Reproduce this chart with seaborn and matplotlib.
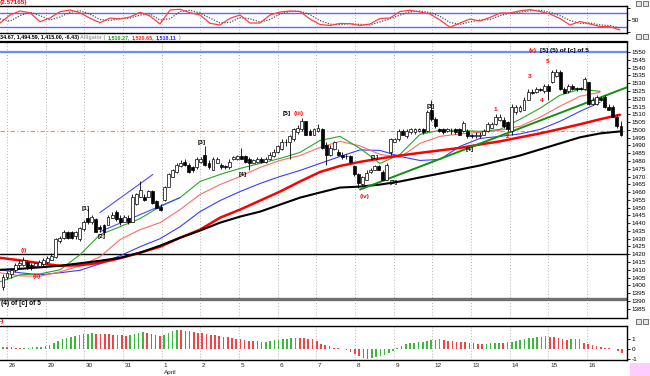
import numpy as np
import matplotlib
matplotlib.use("Agg")
import matplotlib.pyplot as plt
import matplotlib.transforms as mtransforms
from matplotlib.patches import Rectangle
import seaborn as sns

# ---- hourly candles (price) ----
open_px = [1399, 1405.5, 1407, 1410, 1413, 1413, 1415, 1413, 1412.5, 1412.5, 1414, 1415, 1416.5, 1418.5,
           1428.5, 1430.5, 1434.5, 1434, 1431.5, 1429.5, 1436, 1443.5, 1441, 1442.5, 1437.5, 1438.5, 1439,
           1443.5, 1447, 1443.5, 1441, 1443.5, 1441, 1452, 1457, 1457, 1457, 1460.5, 1454, 1450.5, 1455,
           1463.5, 1470, 1473, 1476.5, 1479.5, 1477.5, 1476, 1476, 1479.5, 1484, 1479, 1474.5, 1479, 1477.5,
           1477, 1476, 1481, 1481, 1483, 1483, 1481, 1479, 1479.5, 1481, 1479.5, 1481, 1483, 1485.5, 1487.5,
           1492.5, 1492, 1494, 1498.5, 1500.5, 1505.5, 1499, 1497, 1499, 1500.5, 1490.5, 1484, 1487.5, 1486,
           1484, 1483.5, 1483, 1476.5, 1471.5, 1465, 1468, 1473, 1474.5, 1476.5, 1473, 1468, 1485.5, 1492.5,
           1494, 1499, 1496, 1498.5, 1498.5, 1499, 1500.5, 1499, 1513, 1507, 1500.5, 1500.5, 1499, 1499.5,
           1500.5, 1500.5, 1499, 1499, 1496.5, 1496, 1496, 1497, 1499, 1501.5, 1503.5, 1506.5, 1506.5, 1505,
           1499, 1511.5, 1512, 1513, 1519.5, 1524.5, 1524.5, 1526, 1525, 1528, 1530.5, 1534.5, 1537.5, 1526,
           1525, 1528, 1527, 1527, 1526, 1530.5, 1516.5, 1516.5, 1520.5, 1521, 1515, 1514.5, 1508.5, 1502.5]
high_px = [1407, 1409.5, 1411, 1414.5, 1416, 1418.5, 1416.5, 1414.5, 1415, 1416.5, 1417.5, 1419, 1420.5, 1430.5,
           1432, 1435.5, 1435, 1435, 1435, 1437.5, 1442, 1450, 1445.5, 1443, 1439, 1439.5, 1445.5, 1447,
           1448.5, 1445, 1445.5, 1445, 1458.5, 1459.5, 1467, 1458.5, 1461.5, 1461.5, 1455, 1452, 1464,
           1472.5, 1475, 1479, 1480.5, 1481, 1479, 1477, 1482.5, 1482.5, 1489.5, 1480.5, 1482.5, 1482.5, 1479,
           1477.5, 1481, 1483.5, 1484, 1488.5, 1484, 1482.5, 1481.5, 1482.5, 1482.5, 1482.5, 1485.5, 1487.5,
           1490.5, 1494, 1494, 1497, 1501.5, 1503, 1507.5, 1506, 1500.5, 1501.5, 1503.5, 1501.5, 1492, 1490,
           1493, 1487.5, 1485.5, 1484.5, 1484, 1477.5, 1472, 1470.5, 1474, 1475.5, 1477.5, 1477.5, 1474.5,
           1479, 1495, 1495, 1500.5, 1500.5, 1500.5, 1501.5, 1501.5, 1501.5, 1501.5, 1512.5, 1519.5, 1508,
           1501.5, 1501.5, 1501.5, 1501, 1501.5, 1501.5, 1506, 1500.5, 1497.5, 1498.5, 1498.5, 1500.5, 1505,
           1505, 1510, 1510, 1508, 1506, 1516.5, 1516, 1516, 1521, 1526, 1526, 1527.5, 1527, 1529.5, 1529.5,
           1538.5, 1539, 1538.5, 1527.5, 1529.5, 1529.5, 1527.5, 1527.5, 1534, 1531, 1521, 1522.5, 1521,
           1522.5, 1516.5, 1516, 1510, 1505.5]
low_px = [1397, 1404, 1405, 1408.5, 1411, 1412.5, 1410.5, 1410, 1411.5, 1411.5, 1412.5, 1414, 1416, 1417.5,
          1427.5, 1430, 1430, 1430, 1430, 1428.5, 1435, 1439.5, 1439.5, 1434, 1434.5, 1432.5, 1438.5, 1443,
          1441.5, 1439, 1440.5, 1439.5, 1440.5, 1451.5, 1456.5, 1454.5, 1456.5, 1452.5, 1449.5, 1447.5,
          1454.5, 1463, 1469.5, 1472.5, 1476, 1477, 1472.5, 1473, 1475, 1479, 1477, 1475, 1474, 1478.5, 1475,
          1475, 1475, 1480.5, 1480.5, 1481, 1479, 1474.5, 1478.5, 1479, 1479, 1479, 1480.5, 1482.5, 1485,
          1487, 1489.5, 1481, 1493, 1497.5, 1499.5, 1496.5, 1496.5, 1496.5, 1498.5, 1488, 1477.5, 1483.5,
          1487, 1483, 1481, 1481.5, 1479, 1470.5, 1462.5, 1464, 1467.5, 1472.5, 1474, 1474, 1467.5, 1467.5,
          1484, 1492, 1493, 1496.5, 1495, 1497.5, 1497.5, 1498.5, 1497.5, 1498.5, 1506, 1501.5, 1498.5,
          1497.5, 1498.5, 1497.5, 1497.5, 1496.5, 1498.5, 1495, 1494.5, 1495, 1495, 1496.5, 1498.5, 1501,
          1503, 1506, 1501.5, 1499.5, 1497, 1510.5, 1511.5, 1512.5, 1519, 1523, 1524, 1525, 1524, 1519.5,
          1530, 1534, 1525.5, 1523.5, 1524, 1525.5, 1525, 1525.5, 1525.5, 1516, 1516, 1516, 1518.5, 1514,
          1512.5, 1508, 1501.5, 1496]
close_px = [1405.5, 1408, 1410, 1413, 1414.5, 1416.5, 1412, 1412, 1414.5, 1415, 1416.5, 1417.5, 1419, 1429.5,
            1430.5, 1434.5, 1430.5, 1430.5, 1434, 1437, 1441, 1440.5, 1444, 1434.5, 1436, 1434.5, 1444,
            1445.5, 1442.5, 1441, 1444, 1441, 1457, 1458.5, 1461.5, 1455, 1460.5, 1453, 1450, 1448.5, 1463.5,
            1471.5, 1474.5, 1477.5, 1479, 1477.5, 1473, 1474, 1481, 1481, 1477.5, 1476, 1481, 1481, 1476,
            1476, 1479.5, 1482.5, 1483, 1481.5, 1479.5, 1479, 1480.5, 1481, 1479.5, 1481, 1484, 1486, 1489.5,
            1492.5, 1492, 1496, 1500.5, 1501.5, 1505.5, 1497, 1497, 1500.5, 1501.5, 1488.5, 1484, 1488.5,
            1492, 1484, 1482.5, 1483, 1479.5, 1471.5, 1466, 1469.5, 1472.5, 1474.5, 1476.5, 1474.5, 1468,
            1477.5, 1494, 1494, 1499, 1497, 1499, 1500.5, 1500.5, 1500.5, 1498.5, 1511.5, 1507, 1502.5, 1499,
            1498.5, 1500.5, 1499, 1498.5, 1497, 1504.5, 1496, 1496, 1497, 1497, 1499, 1503.5, 1503.5, 1508.5,
            1508.5, 1502.5, 1500.5, 1515, 1514.5, 1514.5, 1519.5, 1524.5, 1523.5, 1526, 1525.5, 1528, 1525,
            1537, 1537.5, 1526, 1524, 1528, 1526, 1526, 1526, 1532.5, 1516.5, 1519.5, 1521, 1519.5, 1514.5,
            1513, 1508.5, 1502.5, 1497]

# ---- moving averages, read every 5 bars ----
ma_slow = [1410.0, 1410.6, 1411.6, 1412.6, 1414.2, 1415.8, 1417.7, 1421.0, 1425.5, 1430.6, 1435.2, 1440.3,
           1444.2, 1447.4, 1451.9, 1456.4, 1459.7, 1462.9, 1463.5, 1464.8, 1466.8, 1469.4, 1471.9, 1474.5,
           1477.1, 1480.3, 1483.5, 1487.4, 1491.3, 1495.2, 1497.7, 1499.0]
ma_mid = [1417.7, 1416.1, 1414.2, 1412.6, 1412.9, 1414.5, 1417.4, 1421.0, 1424.8, 1430.6, 1435.8, 1443.5,
          1448.7, 1454.5, 1460.3, 1466.8, 1472.9, 1476.8, 1479.4, 1481.6, 1483.5, 1485.2, 1486.8, 1488.4,
          1490.6, 1492.6, 1495.2, 1497.7, 1500.6, 1503.6, 1506.8, 1509.7]
lips = [1402.3, 1406.8, 1407.4, 1410.0, 1419.7, 1432.6, 1437.7, 1442.9, 1450.6, 1456.4, 1466.8, 1471.3,
        1475.2, 1478.4, 1481.6, 1485.5, 1493.2, 1495.8, 1488.1, 1478.4, 1484.2, 1497.1, 1499.7, 1499.7,
        1499.0, 1500.3, 1506.8, 1513.9, 1522.3, 1526.1, 1524.8]
teeth = [1408.1, 1406.1, 1405.8, 1408.7, 1412.6, 1418.4, 1429.4, 1435.8, 1440.3, 1448.7, 1458.4, 1464.8,
         1470.0, 1475.8, 1480.3, 1483.5, 1488.7, 1492.6, 1489.7, 1484.2, 1482.3, 1491.3, 1495.8, 1497.4,
         1498.4, 1499.7, 1502.3, 1508.1, 1515.2, 1521.6, 1524.2]
jaw = [1410.0, 1408.1, 1406.8, 1408.1, 1409.7, 1413.9, 1419.0, 1424.8, 1430.0, 1437.7, 1447.4, 1454.5,
       1460.3, 1465.5, 1470.0, 1473.9, 1478.4, 1482.9, 1487.1, 1486.8, 1482.9, 1480.3, 1481.0, 1489.4,
       1494.5, 1495.8, 1497.4, 1500.3, 1505.5, 1511.9, 1517.7]

# ---- oscillator (top panel), read every 2.5 bars ----
osc_k = [37.7, 70.5, 86.9, 79.9, 43.0, 58.2, 84.0, 91.0, 79.9, 57.0, 38.9, 58.2, 54.1, 62.3, 81.6, 66.4,
         33.6, 91.0, 93.9, 79.9, 70.5, 36.5, 29.5, 57.0, 70.5, 37.7, 37.7, 70.5, 82.8, 86.9, 84.9, 54.1,
         31.6, 27.5, 35.7, 34.8, 27.5, 33.6, 56.2, 58.2, 84.9, 89.8, 82.8, 74.6, 50.0, 20.1, 37.7, 54.1,
         45.9, 60.3, 78.7, 78.7, 87.7, 92.6, 84.9, 74.6, 56.2, 29.5, 43.9, 33.6, 23.4, 22.5, 9.0]
osc_d = [55, 45, 68, 82, 68, 50, 62, 82, 88, 74, 52, 48, 56, 58, 70, 75, 50, 55, 85, 90, 78, 58, 38, 40,
         60, 55, 42, 52, 75, 85, 86, 72, 48, 33, 31, 35, 32, 30, 42, 55, 70, 84, 87, 80, 65, 40, 32, 42,
         50, 52, 68, 78, 82, 88, 90, 82, 68, 48, 36, 38, 30, 27, 18]

# ---- awesome oscillator histogram (bottom panel) ----
ao = [0.20, 0.18, 0.16, 0.14, 0.12, 0.13, 0.15, 0.16, 0.18, 0.20, 0.28, 0.45, 0.60, 0.80, 0.98, 1.10,
      1.20, 1.30, 1.40, 1.48, 1.52, 1.56, 1.55, 1.52, 1.50, 1.46, 1.42, 1.44, 1.38, 1.32, 1.45, 1.55,
      1.62, 1.70, 1.62, 1.52, 1.42, 1.32, 1.42, 1.60, 1.80, 1.90, 1.88, 1.82, 1.76, 1.70, 1.65, 1.60,
      1.52, 1.44, 1.36, 1.30, 1.22, 1.16, 1.10, 1.02, 0.96, 0.90, 0.85, 0.80, 0.76, 0.72, 0.75, 0.80,
      0.88, 0.95, 1.00, 1.05, 1.10, 1.15, 1.12, 1.08, 1.05, 1.00, 0.80,
      0.55, 0.42, 0.30, 0.15, 0.08, 0.04, -0.05, -0.30, -0.50, -0.70, -0.88, -1.00, -0.90, -0.80, -0.70,
      -0.58, -0.40, -0.15, 0.10, 0.30, 0.48, 0.58, 0.64, 0.70, 0.75, 0.80, 0.88, 0.94, 0.96, 0.92, 0.84,
      0.76, 0.72, 0.68, 0.66, 0.62, 0.57, 0.52, 0.50, 0.52, 0.56, 0.60, 0.62, 0.60, 0.68, 0.72, 0.80,
      0.90, 1.00, 1.06, 1.12, 1.16, 1.20, 1.26, 1.24, 1.18, 1.10, 1.00, 0.92, 0.96, 1.00, 1.02, 0.62,
      0.52, 0.42, 0.32, 0.22, 0.12, 0.06, 0.02, -0.15, -0.40]

day_labels = ["26", "29", "30", "31", "1", "2", "5", "6", "7", "8", "9", "12", "13", "14", "15", "16"]

# levels and trend lines (bar, price)
levels = {"blue": 1550, "orange": 1499, "black": 1420, "gray": 1391}
trend_up = [(24.0, 1446.8), (37.1, 1471.3)]
trend_lo = [(24.0, 1434.5), (43.8, 1456.4)]
trend_green = [(88.4, 1461.6), (154.5, 1527.4)]

wave_labels = [("(i)", 5.2, 1422.3, "red"), ("(ii)", 8.4, 1405.5, "red"),
               ("[1]", 20.5, 1449.4, "black"), ("[2]", 24.3, 1431.3, "black"),
               ("[3]", 49.3, 1491.9, "black"), ("[4]", 59.4, 1471.3, "black"),
               ("[5]", 70.3, 1510.6, "black"), ("(iii)", 73.2, 1510.6, "red"),
               ("(iv)", 89.6, 1457.1, "red"), ("[1]", 92.1, 1482.2, "black"),
               ("[2]", 96.6, 1466.1, "black"), ("[3]", 106.0, 1515.2, "black"),
               ("[4]", 115.6, 1487.4, "black"),
               ("1", 122.0, 1513.2, "red"), ("2", 124.8, 1495.8, "red"),
               ("3", 130.4, 1534.5, "red"), ("4", 133.4, 1519.0, "red"),
               ("5", 134.9, 1544.2, "red")]

header_parts = [("34.67, 1,494.59, 1,415.00, -6.43)", "black"), ("Alligator (", "#a0a0a0"),
                ("1,510.27,", "#1a9a1a"), ("1,520.65,", "#ff2020"), ("1,518.11", "#2020ff"),
                (")", "#a0a0a0")]

# ---- figure ----
sns.set_theme(style="white")
plt.rcParams["font.family"] = ["Liberation Sans", "DejaVu Sans"]

W, H = 650, 376
fig = plt.figure(figsize=(W / 100, H / 100), dpi=100)
fig.patch.set_facecolor("white")

BAR_PX = 4.039  # pixels per bar
def px_bar(px):
    return (px - 3) / BAR_PX

xlim = (px_bar(0), px_bar(627))
aw = 627 / W
ax_osc = fig.add_axes([0, 1 - 33 / H, aw, 27 / H])
ax = fig.add_axes([0, 1 - 318 / H, aw, 276 / H])
ax_ao = fig.add_axes([0, 1 - 360 / H, aw, 34 / H])

n = len(close_px)
bars = np.arange(n)
day_ticks = px_bar(7) + (38.67 / BAR_PX) * np.arange(len(day_labels))

for a in (ax_osc, ax, ax_ao):
    a.set_xlim(*xlim)
    a.set_facecolor("white")
    for t in day_ticks:
        a.axvline(t, color="#b4b4b4", ls=(0, (1, 2)), lw=0.7, zorder=0)
    a.spines["left"].set_visible(False)
    for s in ("top", "bottom", "right"):
        a.spines[s].set_color("black")
        a.spines[s].set_linewidth(1.0)
    a.yaxis.tick_right()
    a.tick_params(axis="y", labelsize=4.6, length=2, width=0.6, pad=1.5, colors="black", direction="out")
    a.set_xticks([])

# ---- main price panel ----
ax.set_ylim(1379.0, 1556.5)
ax.set_yticks(np.arange(1385, 1551, 5))
ax.spines["top"].set_linewidth(1.6)

ax.axhline(levels["blue"], color="#6f8cff", lw=1.6, zorder=1)
ax.axhline(levels["orange"], color="#ff8a3d", lw=0.8, ls=(0, (4, 2, 1, 2)), zorder=1)
ax.axhline(levels["black"], color="black", lw=1.0, zorder=1)
ax.axhline(levels["gray"], color="#707070", lw=2.4, zorder=1)

samp5 = px_bar(0) + (20 / BAR_PX) * np.arange(len(ma_slow))
sns.lineplot(x=samp5[:len(jaw)], y=jaw, ax=ax, color="#3b3bff", lw=0.8, zorder=2)
sns.lineplot(x=samp5[:len(teeth)], y=teeth, ax=ax, color="#ff6b6b", lw=0.8, zorder=2)
sns.lineplot(x=samp5[:len(lips)], y=lips, ax=ax, color="#2aa52a", lw=0.8, zorder=2)
sns.lineplot(x=samp5, y=ma_mid, ax=ax, color="#ff0000", lw=1.8, zorder=3)
sns.lineplot(x=samp5, y=ma_slow, ax=ax, color="black", lw=1.5, zorder=3)

for pts, col, lw in ((trend_up, "#4a4aff", 0.8), (trend_lo, "#4a4aff", 0.8), (trend_green, "#109010", 1.4)):
    xs, ys = zip(*pts)
    sns.lineplot(x=list(xs), y=list(ys), ax=ax, color=col, lw=lw, zorder=3)

o = np.array(open_px); c = np.array(close_px)
ax.vlines(bars, low_px, high_px, color="black", lw=0.6, zorder=4)
up = c >= o
body = np.maximum(np.abs(c - o), 0.35)
ax.bar(bars[up], body[up], bottom=np.minimum(o, c)[up], width=0.72, color="white",
       edgecolor="black", linewidth=0.5, zorder=5)
ax.bar(bars[~up], body[~up], bottom=np.minimum(o, c)[~up], width=0.72, color="black",
       edgecolor="black", linewidth=0.5, zorder=5)

for txt, bx, py, col in wave_labels:
    ax.text(bx, py, txt, color=col, fontsize=4.6, fontweight="bold", ha="center", va="center", zorder=6)
ax.text(px_bar(529), 1551.2, "(v)", color="red", fontsize=4.6, fontweight="bold", ha="left", va="center")
ax.text(px_bar(540), 1551.2, "[5] (5) of [c] of 5", color="black", fontsize=4.6, fontweight="bold",
        ha="left", va="center")
ax.text(px_bar(1), 1388.5, "(4) of [c] of 5", color="black", fontsize=4.8, fontweight="bold",
        ha="left", va="center")
ax.set_ylabel("")

# ---- oscillator panel ----
ax_osc.set_ylim(-3.3, 107.4)
ax_osc.set_yticks([0, 50, 100])
ax_osc.set_yticklabels(["", "50", ""])
ax_osc.axhline(80, color="#6464ff", lw=1.0)
ax_osc.axhline(20, color="#6464ff", lw=1.0)
samp_osc = px_bar(0) + (10 / BAR_PX) * np.arange(len(osc_k))
sns.lineplot(x=samp_osc, y=osc_d, ax=ax_osc, color="#505050", lw=0.9, ls=(0, (1, 1.2)))
sns.lineplot(x=samp_osc, y=osc_k, ax=ax_osc, color="#ff4040", lw=0.9)

# ---- AO panel ----
ax_ao.set_ylim(-1.1, 2.3)
ax_ao.set_yticks([-1, 0, 1])
ax_ao.set_yticklabels(["-1", "0", "1"])
ao_arr = np.array(ao)
x_ao = np.linspace(0, px_bar(622), len(ao))
rising = np.r_[True, np.diff(ao_arr) >= 0]
ax_ao.bar(x_ao[rising], ao_arr[rising], width=0.4, color="#3cb93c", linewidth=0)
ax_ao.bar(x_ao[~rising], ao_arr[~rising], width=0.4, color="#f24444", linewidth=0)
ax_ao.set_xticks(day_ticks)
ax_ao.set_xticklabels([])
ax_ao.set_xticks(bars, minor=True)
ax_ao.tick_params(axis="x", which="major", direction="inout", length=10, width=0.8, color="black")
ax_ao.tick_params(axis="x", which="minor", direction="inout", length=3, width=0.5, color="black")
ax_ao.set_ylabel("")

tr = mtransforms.blended_transform_factory(ax_ao.transData, ax_ao.transAxes)
for t, lab in zip(day_ticks, day_labels):
    ax_ao.text(t + 0.45, -0.17, lab, transform=tr, fontsize=4.6, ha="left", va="center")
ax_ao.text(day_ticks[4] + 0.45, -0.37, "April", transform=tr, fontsize=4.6, ha="left", va="center")

# ---- header texts ----
def ftext(xpx, ypx, s, col, size=4.6):
    return fig.text(xpx / W, 1 - ypx / H, s, color=col, fontsize=size, fontweight="bold", va="center")

ftext(0, 2.5, "(2.57165)", "red")
renderer = fig.canvas.get_renderer()
xcur = 0.0
for s, col in header_parts:
    t = ftext(xcur, 38, s, col, size=3.9)
    xcur = t.get_window_extent(renderer=renderer).x1 + 1.5
ftext(0, 322, "-)", "red")

# little panel buttons at the top right of each pane
for ypx in (1, 34, 319):
    for xpx in (636, 643):
        fig.patches.append(Rectangle((xpx / W, 1 - (ypx + 5) / H), 5 / W, 5 / H, transform=fig.transFigure,
                                     facecolor="#e6e6e6", edgecolor="#404040", linewidth=0.5))
fig.patches.append(Rectangle((630 / W, 0), 20 / W, 13 / H, transform=fig.transFigure,
                             facecolor="#ffccff", edgecolor="none"))

fig.savefig("out.png", dpi=100)
plt.close(fig)
